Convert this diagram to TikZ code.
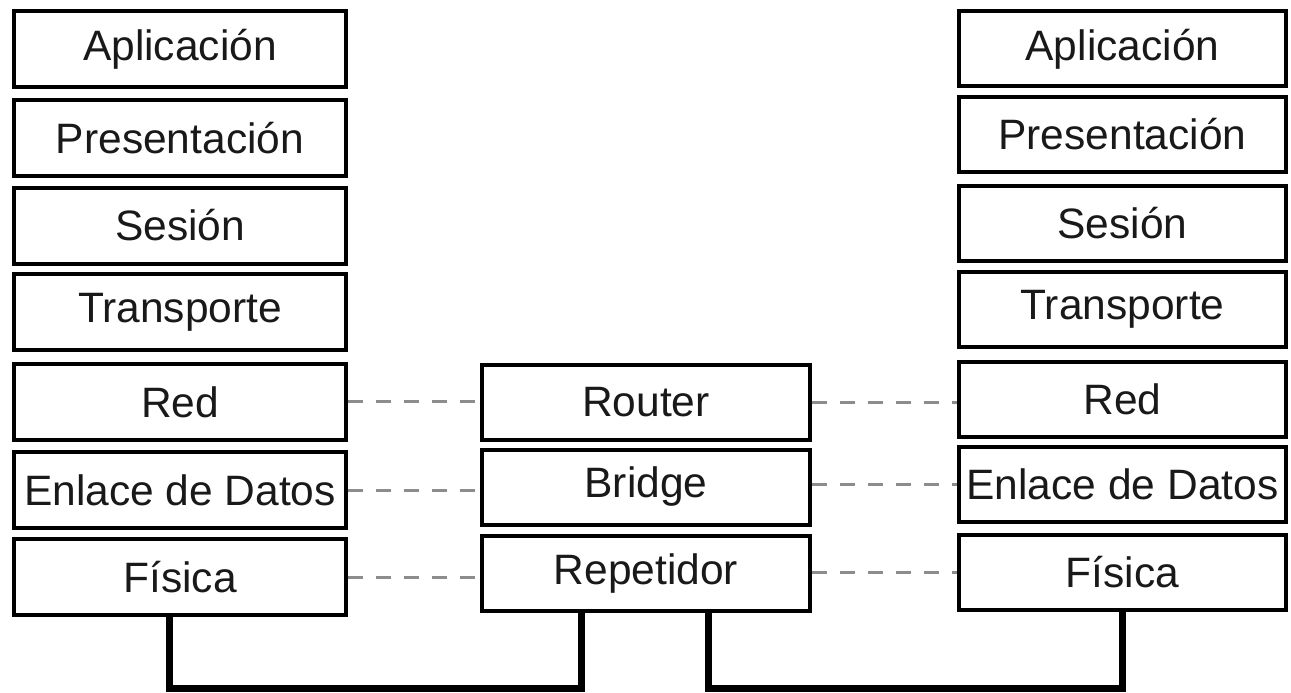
\documentclass[tikz,border=0pt]{standalone}
\usepackage{fontspec}
\setmainfont{Liberation Sans}
\begin{document}
\begin{tikzpicture}[x=1pt,y=-1pt,
  layer/.style={draw=black,line width=4pt,fill=white,inner sep=0pt,
    font=\fontsize{42.5}{46}\selectfont,text=black!90},
  leftbox/.style={layer,minimum width=332pt,minimum height=76pt},
  rightbox/.style={layer,minimum width=327pt,minimum height=75pt},
  midbox/.style={layer,minimum width=328pt,minimum height=75pt},
  dashline/.style={draw=black!45,line width=3pt,dash pattern=on 15pt off 13pt},
  bus/.style={draw=black,line width=7pt}]
\useasboundingbox (0,0) rectangle (1291,693);
% left stack
\node[leftbox] (lapp) at (180,49) {Aplicación};
\node[leftbox] (lpre) at (180,138) {Presentación};
\node[leftbox] (lses) at (180,225.5) {Sesión};
\node[leftbox] (ltra) at (180,312) {Transporte};
\node[leftbox] (lred) at (180,402) {Red};
\node[leftbox] (lenl) at (180,490) {Enlace de Datos};
\node[leftbox] (lfis) at (180,577) {Física};
% right stack
\node[rightbox] (rapp) at (1122.5,49) {Aplicación};
\node[rightbox] (rpre) at (1122.5,134.5) {Presentación};
\node[rightbox] (rses) at (1122.5,223) {Sesión};
\node[rightbox] (rtra) at (1122.5,309.5) {Transporte};
\node[rightbox] (rred) at (1122.5,399) {Red};
\node[rightbox] (renl) at (1122.5,484) {Enlace de Datos};
\node[rightbox] (rfis) at (1122.5,572.5) {Física};
% middle devices
\node[midbox] (mrou) at (646,402) {Router};
\node[midbox] (mbri) at (646,487) {Bridge};
\node[midbox] (mrep) at (646,573.5) {Repetidor};
% dashed correspondences
\draw[dashline] ([yshift=1pt]lred.east) -- ([yshift=1pt]lred.east -| mrou.west);
\draw[dashline] (lenl.east) -- (lenl.east -| mbri.west);
\draw[dashline] (lfis.east) -- (lfis.east -| mrep.west);
\draw[dashline] (mrou.east) -- (mrou.east -| rred.west);
\draw[dashline] ([yshift=3pt]mbri.east) -- ([yshift=3pt]mbri.east -| renl.west);
\draw[dashline] ([yshift=1pt]mrep.east) -- ([yshift=1pt]mrep.east -| rfis.west);
% physical wiring
\coordinate (busL) at (375,688);
\coordinate (busR) at (915,688);
\draw[bus] ([xshift=-11pt]lfis.south) |- (busL) -| ([xshift=-65pt]mrep.south);
\draw[bus] ([xshift=62pt]mrep.south) |- (busR) -| (rfis.south);
\end{tikzpicture}
\end{document}
